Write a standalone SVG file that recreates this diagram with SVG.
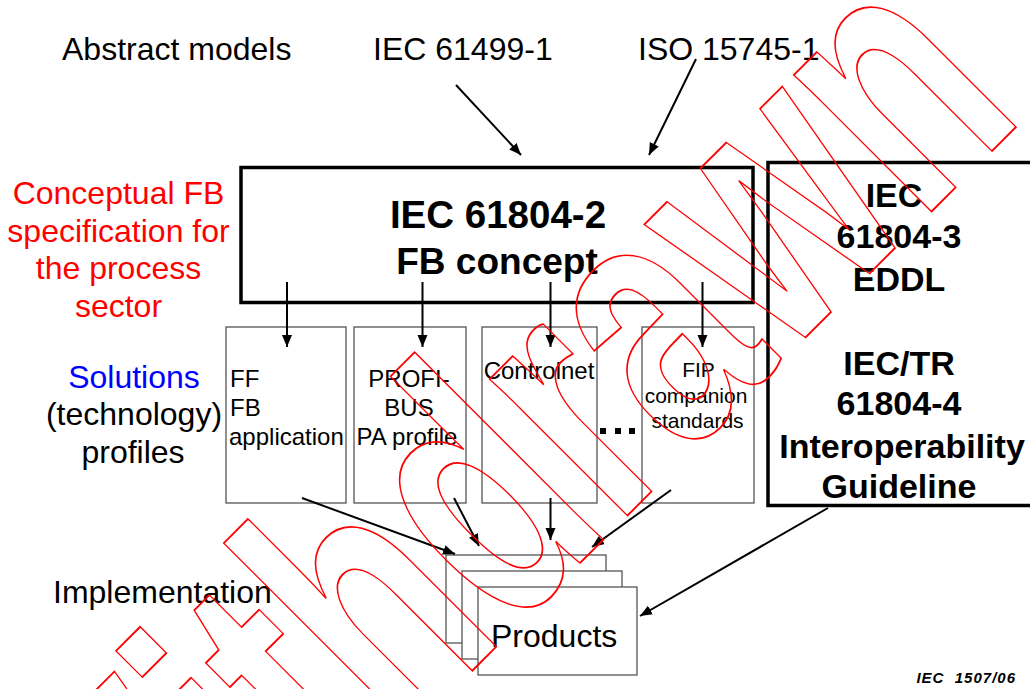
<svg xmlns="http://www.w3.org/2000/svg" width="1030" height="689" viewBox="0 0 1030 689">
<defs>
<style>
text{font-family:"Liberation Sans",Arial,sans-serif;fill:#000}
.lbl{font-size:32px}
.bold{font-weight:bold}
.mid{text-anchor:middle}
.red{fill:#FF0000}
.blue{fill:#0000FF}
.box{fill:#fff;stroke:#555;stroke-width:1.3}
.thick{fill:none;stroke:#000;stroke-width:3.5}
.small{font-size:24px}
.tiny{font-size:21px}
.con{stroke:#000;stroke-width:2;fill:none;marker-end:url(#ah)}
</style>
<marker id="ah" markerUnits="userSpaceOnUse" markerWidth="14" markerHeight="12" refX="12" refY="5" orient="auto">
<path d="M0,0 L12,5 L0,10 z" fill="#000"/>
</marker>
</defs>
<rect width="1030" height="689" fill="#fff"/>

<g id="abstract-labels">
<text class="lbl" x="62" y="60">Abstract models</text>
<text class="lbl" x="373" y="60">IEC 61499-1</text>
<text class="lbl" x="638" y="60">ISO 15745-1</text>
</g>

<g id="conceptual-label">
<text class="lbl red mid" x="118.5" y="204">Conceptual FB</text>
<text class="lbl red mid" x="118.5" y="242">specification for</text>
<text class="lbl red mid" x="118.5" y="279">the process</text>
<text class="lbl red mid" x="118.5" y="317">sector</text>
</g>

<g id="solutions-label">
<text class="lbl blue mid" x="134" y="388">Solutions</text>
<text class="lbl mid" x="134" y="425">(technology)</text>
<text class="lbl mid" x="133" y="463">profiles</text>
</g>

<g id="implementation-label">
<text class="lbl" x="53" y="603">Implementation</text>
</g>

<g id="fb-concept">
<rect class="thick" x="241" y="167.5" width="512" height="135"/>
<text class="bold mid" font-size="38.5" x="498" y="228">IEC 61804-2</text>
<text class="bold mid" font-size="37" x="497" y="274">FB concept</text>
</g>

<g id="eddl-box">
<rect class="thick" x="768" y="162.5" width="270" height="343"/>
<text class="bold mid" font-size="34" x="894" y="207">IEC</text>
<text class="bold mid" font-size="34" x="899" y="248">61804-3</text>
<text class="bold mid" font-size="34" x="899" y="291">EDDL</text>
<text class="bold mid" font-size="34" x="899" y="375">IEC/TR</text>
<text class="bold mid" font-size="34" x="899" y="415">61804-4</text>
<text class="bold mid" font-size="34" x="902" y="458">Interoperability</text>
<text class="bold mid" font-size="34" x="899" y="498">Guideline</text>
</g>

<g id="ff-box">
<rect class="box" x="226" y="327" width="120" height="176"/>
<text class="small" x="230" y="387">FF</text>
<text class="small" x="230" y="416">FB</text>
<text class="small" x="229" y="445">application</text>
</g>

<g id="profibus-box">
<rect class="box" x="354" y="327" width="112" height="176"/>
<text class="small mid" x="409" y="387">PROFI-</text>
<text class="small mid" x="409" y="416">BUS</text>
<text class="small mid" x="407" y="445">PA profile</text>
</g>

<g id="controlnet-box">
<rect class="box" x="482" y="327" width="115" height="176"/>
<text class="small mid" x="539" y="379">Controlnet</text>
</g>

<g id="ellipsis">
<rect x="600" y="428" width="6" height="6" fill="#000"/>
<rect x="615" y="428" width="6" height="6" fill="#000"/>
<rect x="629" y="428" width="6" height="6" fill="#000"/>
</g>

<g id="fip-box">
<rect class="box" x="642" y="327" width="112" height="176"/>
<text class="tiny mid" x="698.5" y="377">FIP</text>
<text class="tiny mid" x="696" y="403">companion</text>
<text class="tiny mid" x="697.5" y="428">standards</text>
</g>

<g id="products">
<rect class="box" x="446" y="555" width="160" height="88"/>
<rect class="box" x="462" y="571" width="160" height="88"/>
<rect class="box" x="478" y="587" width="159" height="88"/>
<text class="lbl" x="491" y="647">Products</text>
</g>

<g id="connectors">
<line class="con" x1="456" y1="85" x2="521" y2="155"/>
<line class="con" x1="696" y1="59" x2="649" y2="155"/>
<line class="con" x1="287" y1="282" x2="287" y2="347"/>
<line class="con" x1="422.5" y1="282" x2="422.5" y2="347"/>
<line class="con" x1="550.5" y1="282" x2="550.5" y2="347"/>
<line class="con" x1="702.5" y1="282" x2="702.5" y2="347"/>
<line class="con" x1="302" y1="498" x2="455" y2="554"/>
<line class="con" x1="454" y1="498" x2="479" y2="546"/>
<line class="con" x1="550.5" y1="498" x2="550.5" y2="540"/>
<line class="con" x1="671" y1="490" x2="592" y2="547"/>
<line class="con" x1="828" y1="508" x2="640" y2="616"/>
</g>

<g id="figure-number">
<text x="1016" y="683" font-size="15" font-weight="bold" font-style="italic" text-anchor="end" letter-spacing="1" xml:space="preserve">IEC  1507/06</text>
</g>

<g id="watermark">
<text transform="translate(126.7,1016.3) rotate(-45) scale(0.68,1)" font-size="367" font-weight="bold" style="fill:none;stroke:#FF0000;stroke-width:1.6" vector-effect="non-scaling-stroke">Withdrawn</text>
</g>
</svg>
